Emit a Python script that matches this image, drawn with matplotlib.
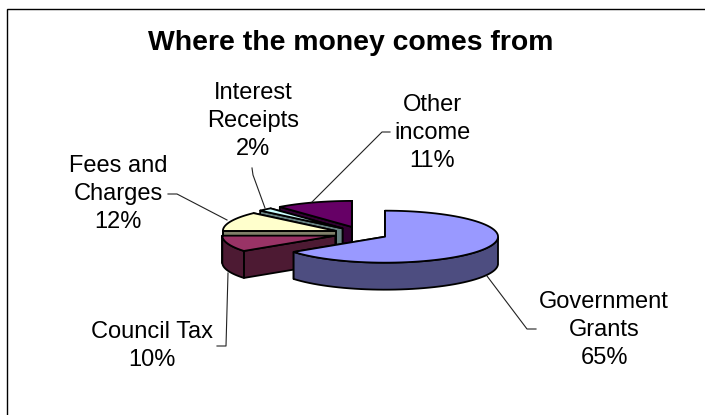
import numpy as np
import matplotlib
matplotlib.use('Agg')
import matplotlib.pyplot as plt
from matplotlib.patches import Polygon, Rectangle

plt.rcParams['font.family'] = ['Liberation Sans', 'DejaVu Sans']

categories = ['Government\nGrants', 'Council Tax', 'Fees and\nCharges', 'Interest\nReceipts', 'Other\nincome']
values = [65, 10, 12, 2, 11]
top_colors = ['#9999ff', '#993366', '#ffffcc', '#ccffff', '#660066']
side_colors = ['#4d4d80', '#4d1a33', '#80806a', '#668080', '#330033']

# pie geometry in pixels
cx, cy = 361, 233.5
rx, ry = 113, 26
depth = 27
ex, ey = 27, 7

fig = plt.figure(figsize=(7.05, 4.15), dpi=100)
ax = fig.add_axes([0, 0, 1, 1])
ax.set_xlim(0, 705)
ax.set_ylim(415, 0)
ax.axis('off')

ax.add_patch(Rectangle((6.5, 9.5), 720, 430, fc='white', ec='black', lw=1, clip_on=True))


def poly(pts, color):
    ax.add_patch(Polygon(pts, closed=True, fc=color, ec='black', lw=1.3, joinstyle='round'))


def draw_slice(a0, a1, top, side):
    mid = np.radians((a0 + a1) / 2)
    x0 = cx + ex * np.sin(mid)
    y0 = cy - ey * np.cos(mid)
    t = np.radians(np.linspace(a0, a1, 80))
    xs = x0 + rx * np.sin(t)
    ys = y0 - ry * np.cos(t)
    # cut faces, the one at the end angle sits behind
    for i in (-1, 0):
        poly([(x0, y0), (xs[i], ys[i]), (xs[i], ys[i] + depth), (x0, y0 + depth)], side)
    # outer wall, only the part turned towards the viewer
    front = np.cos(t) <= 0
    if front.any():
        fx, fy = xs[front], ys[front]
        poly(np.r_[np.c_[fx, fy], np.c_[fx[::-1], fy[::-1] + depth]], side)
    poly(np.r_[[(x0, y0)], np.c_[xs, ys]], top)


# cumulative angles clockwise from 12 o'clock
edges = np.cumsum([0] + values) * 3.6
order = [4, 3, 2, 1, 0]
for i in order:
    draw_slice(edges[i], edges[i + 1], top_colors[i], side_colors[i])

# leader lines
leaders = [
    [(487, 276), (527, 329), (536, 329)],
    [(228, 273), (226, 346), (217, 346)],
    [(168, 194), (177, 194), (227, 220)],
    [(252, 168), (253, 175), (265, 208)],
    [(390, 132), (382, 132), (312, 202)],
]
for pts in leaders:
    p = np.array(pts)
    ax.plot(p[:, 0], p[:, 1], color='#222222', lw=0.8, zorder=1.5)

# slice labels
label_pos = [(604, 330), (152, 346), (118, 194), (253, 121), (432, 133)]
for name, v, (x, y) in zip(categories, values, label_pos):
    ax.text(x, y, f'{name}\n{v}%', ha='center', va='center', fontsize=17, linespacing=1.34, color='black')

ax.text(350.5, 43, 'Where the money comes from', ha='center', va='center',
        fontsize=20.4, fontweight='bold', color='black')

fig.savefig('out.png', dpi=100)
